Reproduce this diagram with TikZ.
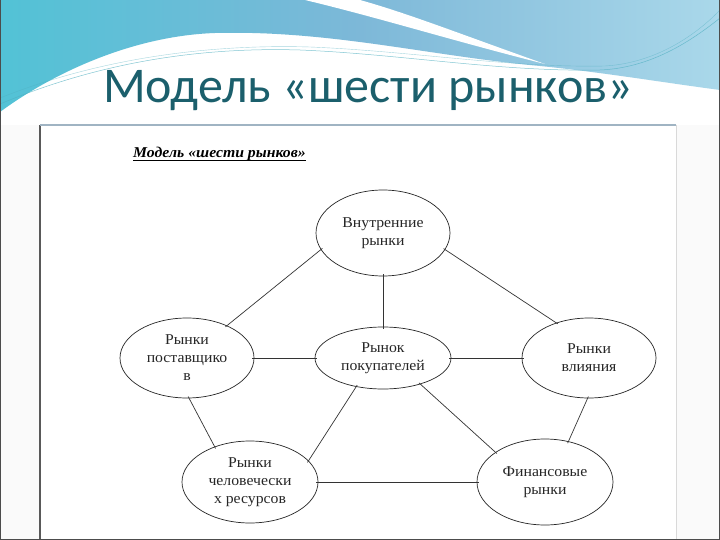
\documentclass[tikz,border=0pt]{standalone}
\usepackage{fontspec}
\setmainfont{Liberation Serif}
\newfontfamily\lblfont[FakeStretch=1.05]{Liberation Serif}
\newfontfamily\titlefont{Carlito}
\usetikzlibrary{shapes.geometric}
\definecolor{titleteal}{HTML}{1B5F6C}
\definecolor{wavecyan}{HTML}{52C2D6}
\definecolor{waveblue}{HTML}{7DB8D8}
\definecolor{wavelight}{HTML}{AAD8EA}
\definecolor{swoosh}{HTML}{4FAFC0}
\begin{document}
\begin{tikzpicture}[x=1pt,y=-1pt,
  mkt/.style={draw=black!85, ellipse, line width=0.7pt, inner sep=0pt, align=center,
    font=\lblfont\fontsize{15}{18}\selectfont, text=black!85},
  conn/.style={draw=black!80, line width=0.7pt, shorten <=-2pt, shorten >=-2pt}]
\useasboundingbox (0,0) rectangle (720,540);
\fill[white] (0,0) rectangle (720,540);
% header wave
\shade[left color=wavecyan, right color=wavelight, middle color=waveblue]
  (0,0) -- (720,0) -- (720,90) .. controls (660,82) and (600,72) .. (540,66)
  .. controls (430,56) and (330,30) .. (215,33)
  .. controls (130,36) and (50,75) .. (0,112) -- cycle;
\fill[white] (305,0) .. controls (380,18) and (450,40) .. (545,64)
  .. controls (460,34) and (410,14) .. (360,0) -- cycle;
\draw[swoosh, line width=0.5pt, opacity=0.7]
  (0,104) .. controls (100,62) and (200,47) .. (300,50)
  .. controls (400,54) and (500,72) .. (600,70)
  .. controls (650,68) and (690,42) .. (720,18);
\draw[swoosh, line width=0.4pt, opacity=0.5]
  (0,98) .. controls (100,58) and (210,44) .. (310,47)
  .. controls (410,51) and (510,68) .. (605,66)
  .. controls (655,63) and (695,36) .. (720,10);
% title
\node[anchor=base west, inner sep=0pt, text=titleteal, font=\titlefont\fontsize{50}{60}\selectfont]
  (title) at (103,103) {Модель «шести рынков»};
% side areas and frame
\fill[black!2] (0,125) rectangle (40,540);
\fill[black!2] (676,125) rectangle (720,540);
\draw[black!65, line width=1.2pt] (40,125) -- (40,540);
\draw[black!15, line width=0.6pt] (676,125) -- (676,540);
\draw[color={rgb,255:red,160;green,180;blue,195}, line width=1.2pt] (40,125) -- (676,125);
\draw[black!70, line width=1pt] (0.5,0) -- (0.5,539.5) -- (719.5,539.5) -- (719.5,0);
% inner heading
\node[anchor=base west, inner sep=0pt, font=\lblfont\bfseries\itshape\fontsize{15}{17}\selectfont]
  (head) at (133,158) {Модель «шести рынков»};
\draw[black, line width=1.1pt] (head.base west) ++(0,2.5) -- ++(173,0);
% markets
\node[mkt, minimum width=134pt, minimum height=86pt] (inner) at (383,233) {Внутренние\\рынки};
\node[mkt, minimum width=136pt, minimum height=62pt] (buy) at (383,358) {Рынок\\покупателей};
\node[mkt, minimum width=134pt, minimum height=80pt] (sup) at (187,358) {Рынки\\поставщико\\в};
\node[mkt, minimum width=134pt, minimum height=80pt] (infl) at (589,358) {Рынки\\влияния};
\node[mkt, minimum width=136pt, minimum height=82pt] (hr) at (250,482) {Рынки\\человечески\\х ресурсов};
\node[mkt, minimum width=136pt, minimum height=86pt] (fin) at (545,482) {Финансовые\\рынки};
% connectors
\draw[conn] (inner.south) -- (buy.north);
\draw[conn] (inner.195) -- (sup.39);
\draw[conn] (inner.345) -- (infl.133);
\draw[conn] (sup.east) -- (buy.west);
\draw[conn] (buy.east) -- (infl.west);
\draw[conn] (sup.273) -- (hr.135);
\draw[conn] (buy.227) -- (hr.20);
\draw[conn] (buy.325) -- (fin.149);
\draw[conn] (infl.268) -- (fin.60);
\draw[conn] (hr.east) -- (fin.west);
\end{tikzpicture}
\end{document}
